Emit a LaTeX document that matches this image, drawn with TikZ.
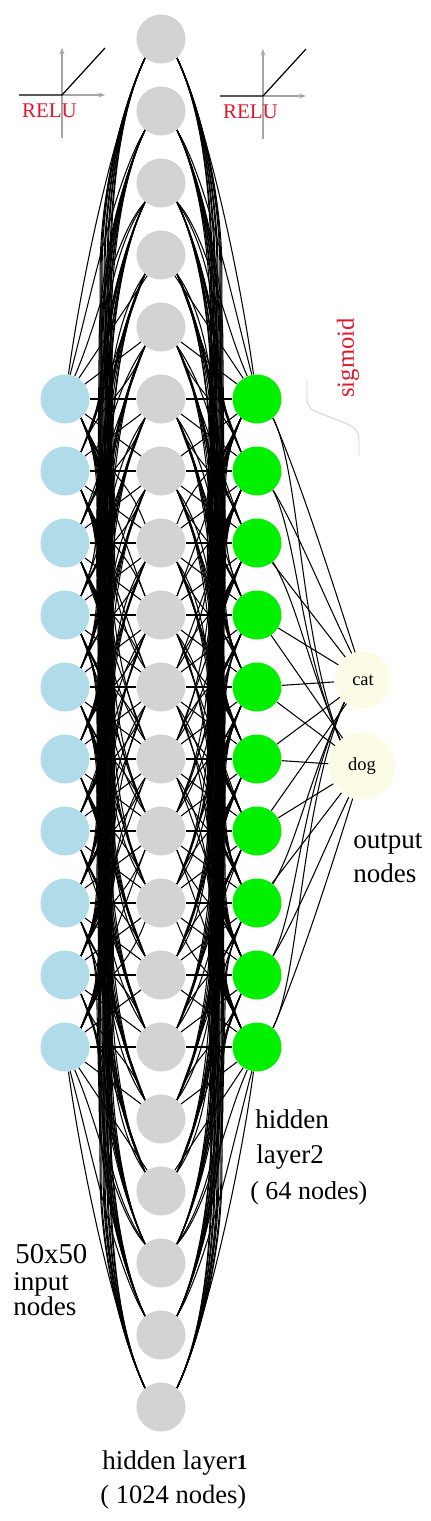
\documentclass[tikz,border=0pt]{standalone}
\usepackage{fontspec}
\setmainfont{Liberation Serif}
\usetikzlibrary{arrows.meta}
\definecolor{inblue}{HTML}{B0DCEA}
\definecolor{hidgray}{HTML}{D3D3D3}
\definecolor{hidgreen}{HTML}{00F000}
\definecolor{outcream}{HTML}{FCFCE6}
\definecolor{relured}{HTML}{E0182D}

\begin{document}
\begin{tikzpicture}[x=0.02cm, y=-0.02cm,
    neuron/.style={circle, inner sep=0pt, minimum size=0.98cm},
    inputn/.style={neuron, fill=inblue},
    hiddena/.style={neuron, fill=hidgray},
    hiddenb/.style={neuron, fill=hidgreen},
    outputn/.style={circle, inner sep=0pt, fill=outcream, font=\fontsize{10.5}{12}\selectfont},
    link/.style={draw=black, line width=0.6pt},
    lbl/.style={anchor=base west, inner sep=0pt, font=\fontsize{15.4}{18}\selectfont},
    relulbl/.style={inner sep=0pt, text=relured, font=\fontsize{11.9}{14}\selectfont},
    axis/.style={draw=black!35, line width=0.75pt, -{Stealth[length=1.3mm, width=1mm]}},
    relucurve/.style={draw=black, line width=0.7pt}
]
\useasboundingbox (0,0) rectangle (430,1521);

% --- Layers ---
\foreach \i in {0,...,9} {
    \node[inputn] (in\i) at (65,399+72*\i) {};
    \node[hiddenb] (hb\i) at (257,399+72*\i) {};
}
\foreach \j in {0,...,19} {
    \node[hiddena] (ha\j) at (161,39+72*\j) {};
}
\node[outputn, minimum size=1.14cm] (cat) at (363,680) {cat};
\node[outputn, minimum size=1.34cm] (dog) at (362,766) {dog};

% --- Links to hidden layer 1 (both sides mirrored about x=161) ---
\foreach \lay/\xs/\dir in {in/65/1, hb/257/-1} {
  \foreach \i in {0,...,9} {
    \foreach \j in {0,...,19} {
      \pgfmathtruncatemacro\dist{abs(\i+5-\j)}
      \pgfmathtruncatemacro\ys{399+72*\i}
      \pgfmathtruncatemacro\ye{39+72*\j}
      \pgfmathtruncatemacro\sy{\j>\i+5 ? 1 : -1}
      \pgfmathtruncatemacro\fan{(\i==0 && \sy==-1) || (\i==9 && \sy==1) ? 1 : 0}
      \pgfmathtruncatemacro\aEnd{\dir>0 ? 180-\sy*50 : \sy*50}
      \ifnum\dist<2
        \draw[link] (\lay\i) -- (ha\j);
      \else\ifnum\fan=1
        \ifnum\dist=2
          \draw[link] (\lay\i) -- (ha\j);
        \else
          \pgfmathtruncatemacro\aOut{\dist==3 ? 67 : (\dist==4 ? 78 : 82)}
          \pgfmathtruncatemacro\aStart{\dir>0 ? -\sy*\aOut : 180+\sy*\aOut}
          \pgfmathsetmacro\cax{\xs+\dir*(18+(5-\dist)*8)}
          \pgfmathsetmacro\cay{\ys+\sy*0.36*72*\dist}
          \pgfmathsetmacro\cbx{161-\dir*46}
          \pgfmathsetmacro\cby{\ye-\sy*0.24*72*\dist}
          \draw[link] (\lay\i.\aStart) .. controls (\cax,\cay) and (\cbx,\cby) .. (ha\j.\aEnd);
        \fi
      \else
        \pgfmathtruncatemacro\aStart{\dir>0 ? -\sy*50 : 180+\sy*50}
        \ifnum\dist<4
          \pgfmathsetmacro\cax{\xs+\dir*35}
          \pgfmathsetmacro\cay{\ys+\sy*70}
          \pgfmathsetmacro\cbx{161-\dir*35}
          \pgfmathsetmacro\cby{\ye-\sy*70}
          \draw[link] (\lay\i.\aStart) .. controls (\cax,\cay) and (\cbx,\cby) .. (ha\j.\aEnd);
        \else
          \pgfmathsetmacro\off{32+1.5*mod(\i*3+\j,13)}
          \pgfmathsetmacro\len{min(230,72*\dist-115)}
          \pgfmathsetmacro\bax{\xs+\dir*\off}
          \pgfmathsetmacro\bbx{\xs+\dir*(42+0.65*(\off-44))}
          \pgfmathsetmacro\cax{\xs+\dir*30}
          \pgfmathsetmacro\cay{\ys+\sy*50}
          \pgfmathsetmacro\cby{\ys+\sy*75}
          \pgfmathsetmacro\pay{\ys+\sy*105}
          \pgfmathsetmacro\pby{\ye-\sy*\len}
          \pgfmathsetmacro\cdy{\ye-\sy*0.7*\len}
          \pgfmathsetmacro\cex{161-\dir*42}
          \pgfmathsetmacro\cey{\ye-\sy*0.32*\len}
          \draw[link] (\lay\i.\aStart) .. controls (\cax,\cay) and (\bax,\cby) .. (\bax,\pay)
              -- (\bbx,\pby) .. controls (\bbx,\cdy) and (\cex,\cey) .. (ha\j.\aEnd);
        \fi
      \fi\fi
    }
  }
}

% --- Links to output nodes ---
\foreach \i in {2,...,6} {
    \draw[link] (hb\i) -- (cat);
}
\foreach \i in {3,...,7} {
    \draw[link] (hb\i) -- (dog);
}
\draw[link] (hb0.-50) .. controls (300,480) and (335,590) .. (cat.106);
\draw[link] (hb1.-50) .. controls (295,525) and (330,610) .. (cat.113);
\draw[link] (hb9.50) .. controls (300,966) and (335,856) .. (dog.-106);
\draw[link] (hb8.50) .. controls (295,921) and (330,836) .. (dog.-113);
\foreach \up/\dn/\cax/\cay/\cbx/\cby in {0/9/300/470/300/640, 1/8/298/540/300/650, 2/7/296/600/308/665} {
    \draw[link] (hb\up.-50) .. controls (\cax,\cay) and (\cbx,\cby) .. (dog.130);
    \draw[link] (hb\dn.50) .. controls (\cax,1446-\cay) and (\cbx,1446-\cby) .. (cat.-130);
}

% --- RELU plots ---
\foreach \sx/\sy/\nm in {0/0/relua, 201/1/relub} {
    \begin{scope}[shift={(\sx,\sy)}]
        \draw[axis] (62,138) -- (62,48);
        \draw[axis] (62,95) -- (105,95);
        \draw[relucurve] (19,95) -- (62,95) -- (105,48);
        \node[relulbl] (\nm) at (49.5,110.5) {RELU};
    \end{scope}
}

% --- Sigmoid ---
\draw[draw=blue!20, line width=0.5pt] (307,380) -- (307,398) .. controls (307,408) and (313,411) .. (322,414)
    -- (345,423) .. controls (355,427) and (359,431) .. (359,442) -- (359,456);
\node[rotate=90, inner sep=0pt, text=relured, font=\fontsize{14}{16}\selectfont] (sigm) at (348,358) {sigmoid};

% --- Labels ---
\node[lbl] (outa) at (353,848) {output};
\node[lbl] (outb) at (353,882) {nodes};
\node[lbl] (hba) at (255,1128) {hidden};
\node[lbl] (hbb) at (256,1163) {layer2};
\node[lbl, font=\fontsize{14.8}{18}\selectfont] (hbc) at (250,1199) {( 64 nodes)};
\node[lbl, font=\fontsize{16.4}{18}\selectfont] (ina) at (15,1263) {50x50};
\node[lbl] (inb) at (13,1290) {input};
\node[lbl] (inc) at (13,1315) {nodes};
\node[lbl] (haa) at (102,1469) {hidden layer{\fontsize{12}{12}\selectfont\bfseries 1}};
\node[lbl, font=\fontsize{15.1}{18}\selectfont] (hab) at (100,1503) {( 1024 nodes)};
\end{tikzpicture}
\end{document}
